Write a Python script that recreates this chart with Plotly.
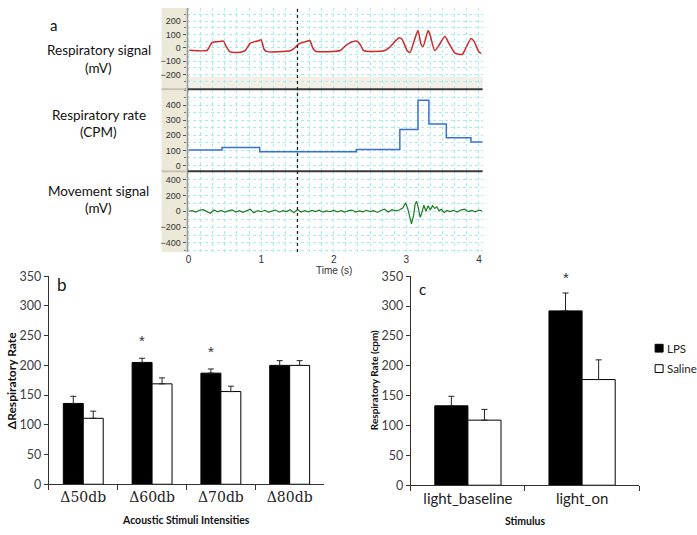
import plotly.graph_objects as go

W, H = 697, 535

# ---------------- Panel a data ----------------
resp_t = [0.01, 0.25, 0.28, 0.32, 0.44, 0.48, 0.52, 0.57, 0.71, 0.78, 0.85, 0.97, 1.00, 1.04,
          1.08, 1.40, 1.45, 1.52, 1.63, 1.67, 1.71, 1.75, 2.09, 2.15, 2.23, 2.32, 2.37, 2.41,
          2.69, 2.76, 2.90, 2.94, 3.01, 3.05, 3.10, 3.16, 3.20, 3.23, 3.30, 3.33, 3.39, 3.45,
          3.53, 3.59, 3.67, 3.77, 3.82, 3.89, 3.93, 4.00, 4.03]
resp_v = [-18, -20, 0, 38, 48, 50, 10, -30, -32, -20, 35, 55, 60, -10,
          -28, -22, -5, 30, 50, 55, 0, -25, -20, 10, 40, 50, 20, -20,
          -22, 0, 75, 65, -20, -35, 40, 130, 30, 10, 130, 90, -20, 20,
          85, 30, -40, -48, 0, 70, 50, -30, -40]

rate_t = [0, 0.46, 0.98, 2.31, 2.91, 3.16, 3.31, 3.55, 3.89, 4.05]
rate_v = [102, 119, 91, 106, 238, 432, 275, 184, 156, 156]

mov_t = [0.00, 0.05, 0.10, 0.15, 0.20, 0.25, 0.30, 0.35, 0.40, 0.45, 0.50, 0.55, 0.60, 0.65,
         0.70, 0.75, 0.80, 0.85, 0.90, 0.95, 1.00, 1.05, 1.10, 1.15, 1.20, 1.25, 1.30, 1.35,
         1.40, 1.45, 1.50, 1.55, 1.60, 1.65, 1.70, 1.75, 1.80, 1.85, 1.90, 1.95, 2.00, 2.05,
         2.10, 2.15, 2.20, 2.25, 2.30, 2.35, 2.40, 2.45, 2.50, 2.55, 2.60, 2.65, 2.70, 2.75,
         2.80, 2.85, 2.90, 2.95, 2.99, 3.02, 3.05, 3.07, 3.10, 3.12, 3.14, 3.16, 3.19, 3.21,
         3.24, 3.27, 3.30, 3.33, 3.36, 3.39, 3.42, 3.45, 3.48, 3.52, 3.56, 3.60, 3.65, 3.70,
         3.75, 3.80, 3.85, 3.90, 3.95, 4.00, 4.04]
mov_v = [0, 8, -10, 12, 20, -5, -25, 15, -8, 10, -12, 5, 18, -10,
         6, -15, 10, 25, -20, 8, -6, 12, -10, 5, 15, -12, 8, -5,
         20, -18, 22, -10, 6, -8, 10, -5, 12, -12, 5, -6, 10, -8,
         6, -12, 8, 15, -10, 5, -8, 12, -5, 8, -15, 10, 25, -10,
         20, 5, 15, 40, 105, 30, -110, -160, -50, 90, 125, 60, -75, -30,
         75, 0, 70, 15, 70, 35, 55, 5, 25, -15, 10, -5, 12, -10,
         15, 25, -5, 10, -8, 15, 5]

stim_time = 1.5

# ---------------- Panel b data ----------------
b_cats = ["Δ50db", "Δ60db", "Δ70db", "Δ80db"]
b_lps = [136, 205, 187, 200]
b_lps_err = [12, 7, 7, 8]
b_sal = [111, 169, 156, 200]
b_sal_err = [12, 10, 9, 8]
b_star_cats = ["Δ60db", "Δ70db"]
b_star_y = [242, 223]

# ---------------- Panel c data ----------------
c_cats = ["light_baseline", "light_on"]
c_lps = [133, 292]
c_lps_err = [16, 30]
c_sal = [109, 177]
c_sal_err = [18, 33]
c_star_cats = ["light_on"]
c_star_y = [348]

series_names = ["LPS", "Saline"]
series_fill = ["black", "white"]

def py(p):
    return 1 - p / H

def px(p):
    return p / W

fig = go.Figure()

GRID = "#a6ecf3"
TICKF = dict(family="Liberation Sans", size=9, color="#333")

# panel a traces
fig.add_trace(go.Scatter(x=resp_t, y=resp_v, mode="lines", line=dict(color="#d02828", width=1.5, shape="spline", smoothing=0.6),
                         xaxis="x", yaxis="y", showlegend=False))
fig.add_trace(go.Scatter(x=rate_t, y=rate_v, mode="lines", line=dict(color="#3a6fd8", width=1.5, shape="hv"),
                         xaxis="x2", yaxis="y2", showlegend=False))
fig.add_trace(go.Scatter(x=mov_t, y=mov_v, mode="lines", line=dict(color="#1e7a1e", width=1.2),
                         xaxis="x3", yaxis="y3", showlegend=False))

def err(a):
    return dict(type="data", symmetric=False, array=a, arrayminus=[0]*len(a), color="#222", thickness=1, width=3)

# panel b
fig.add_trace(go.Bar(x=b_cats, y=b_lps, marker=dict(color=series_fill[0], line=dict(color="black", width=1)), error_y=err(b_lps_err),
                     xaxis="x4", yaxis="y4", showlegend=False, name=series_names[0]))
fig.add_trace(go.Bar(x=b_cats, y=b_sal, marker=dict(color=series_fill[1], line=dict(color="black", width=1)), error_y=err(b_sal_err),
                     xaxis="x4", yaxis="y4", showlegend=False, name=series_names[1]))

# panel c
fig.add_trace(go.Bar(x=c_cats, y=c_lps, marker=dict(color=series_fill[0], line=dict(color="black", width=1)), error_y=err(c_lps_err),
                     xaxis="x5", yaxis="y5", showlegend=False, name=series_names[0]))
fig.add_trace(go.Bar(x=c_cats, y=c_sal, marker=dict(color=series_fill[1], line=dict(color="black", width=1)), error_y=err(c_sal_err),
                     xaxis="x5", yaxis="y5", showlegend=False, name=series_names[1]))

xa_dom = [px(186), px(482)]
xr = [-0.015, 4.05]

def a_xaxis(show_labels, anchor):
    return dict(domain=xa_dom, range=xr, anchor=anchor, tickvals=[0, 1, 2, 3, 4],
                showticklabels=show_labels, ticks="", showgrid=True, gridcolor=GRID, griddash="dot", gridwidth=1,
                minor=dict(dtick=1/6, tick0=0, showgrid=True, gridcolor=GRID, griddash="dot", gridwidth=1),
                zeroline=False, showline=False, tickfont=dict(family="Liberation Sans", size=10, color="#333"),
                fixedrange=True)

def a_yaxis(dom, rng, vals, minor_dt, anchor):
    return dict(domain=dom, range=rng, anchor=anchor, tickvals=vals, ticks="outside", ticklen=3, tickcolor="#555",
                showgrid=True, gridcolor=GRID, griddash="dot", zeroline=False, showline=False,
                minor=dict(dtick=minor_dt, showgrid=True, gridcolor=GRID, griddash="dot", ticks="outside", ticklen=2, tickcolor="#777"),
                tickfont=TICKF, ticklabelstandoff=1)

bar_y_common = dict(range=[0, 350], dtick=50, ticks="outside", ticklen=4, tickcolor="#333", showline=True, linecolor="#333",
                    linewidth=1, showgrid=False, zeroline=False, tickfont=dict(family="Lato", size=12.5, color="#404040"))

fig.update_layout(
    width=W, height=H, margin=dict(l=0, r=0, t=0, b=0), paper_bgcolor="white", plot_bgcolor="white",
    showlegend=False,
    xaxis=a_xaxis(False, "y"),
    xaxis2=a_xaxis(False, "y2"),
    xaxis3=a_xaxis(True, "y3"),
    yaxis=a_yaxis([py(83), 1.0], [-305, 298], [-200, -100, 0, 100, 200], 50, "x"),
    yaxis2=a_yaxis([py(168), py(84)], [-39, 503], [0, 100, 200, 300, 400], 50, "x2"),
    yaxis3=a_yaxis([py(251), py(168)], [-513, 503], [-400, -200, 0, 200, 400], 100, "x3"),
    xaxis4=dict(domain=[px(47), px(323)], anchor="y4", ticks="outside", tickson="boundaries", ticklen=5, tickcolor="#333",
                showline=True, linecolor="#333", linewidth=1, showgrid=False,
                tickfont=dict(family="DejaVu Serif", size=14, color="#222")),
    yaxis4=dict(domain=[py(490), py(276)], anchor="x4", **bar_y_common),
    xaxis5=dict(domain=[px(410), px(639)], anchor="y5", ticks="outside", tickson="boundaries", ticklen=5, tickcolor="#333",
                showline=True, linecolor="#333", linewidth=1, showgrid=False,
                tickfont=dict(family="Lato", size=15, color="#222")),
    yaxis5=dict(domain=[py(491), py(276)], anchor="x5", **bar_y_common),
    barmode="group", bargap=0.42, bargroupgap=0,
)

shapes = []
shapes.append(dict(type="rect", xref="paper", yref="paper", x0=px(160), x1=px(186), y0=py(251), y1=1,
                   fillcolor="#ECE9D8", line=dict(width=0), layer="below"))
shapes.append(dict(type="rect", xref="x domain", yref="y", x0=0, x1=1, y0=-305, y1=-215,
                   fillcolor="#F1EFE6", line=dict(width=0), layer="below"))
shapes.append(dict(type="line", xref="paper", yref="paper", x0=px(186), x1=px(186), y0=py(251), y1=1,
                   line=dict(color="#9a9a9a", width=1.5)))
for yy in (83.5, 168):
    shapes.append(dict(type="line", xref="paper", yref="paper", x0=px(186), x1=px(482), y0=py(yy), y1=py(yy),
                       line=dict(color="#3a3a3a", width=2)))
    shapes.append(dict(type="line", xref="paper", yref="paper", x0=px(160), x1=px(186), y0=py(yy), y1=py(yy),
                       line=dict(color="#c8c4b0", width=2)))
shapes.append(dict(type="line", xref="x3", yref="paper", x0=stim_time, x1=stim_time, y0=py(251), y1=1,
                   line=dict(color="#222", width=1.3, dash="dot")))

# legend of panel c (drawn as small swatches + labels)
ann = []
for i, (nm, fc) in enumerate(zip(series_names, series_fill)):
    yc = 350 + i * 21
    shapes.append(dict(type="rect", xref="paper", yref="paper", x0=px(655), x1=px(663), y0=py(yc + 4), y1=py(yc - 4),
                       fillcolor=fc, line=dict(color="black", width=1)))
    ann.append(dict(x=px(665), y=py(yc), xref="paper", yref="paper", text=nm, showarrow=False, xanchor="left",
                    yanchor="middle", font=dict(family="Lato", size=11.5, color="#222")))
fig.update_layout(shapes=shapes)

def txt(x, y, s, size=13, bold=False, family="Lato", angle=0, color="#111"):
    ann.append(dict(x=px(x), y=py(y), xref="paper", yref="paper", text=("<b>%s</b>" % s) if bold else s,
                    showarrow=False, textangle=angle, font=dict(family=family, size=size, color=color),
                    xanchor="center", yanchor="middle"))

txt(52, 17, "a", size=15)
txt(97, 43, "Respiratory signal", size=13.5)
txt(97, 62, "(mV)", size=13.5)
txt(97, 110, "Respiratory rate", size=13.5)
txt(97, 128, "(CPM)", size=13.5)
txt(97, 188, "Movement signal", size=13.5)
txt(97, 206, "(mV)", size=13.5)
txt(333, 270, "Time (s)", size=10, family="Liberation Sans", color="#333")

txt(60, 284, "b", size=17)
txt(9, 383, "ΔRespiratory Rate", size=12, bold=True, angle=-90)
txt(185, 527, "Acoustic Stimuli Intensities", size=10.5, bold=True)

txt(422, 289, "c", size=15)
txt(373, 383, "Respiratory Rate (cpm)", size=10, bold=True, angle=-90)
txt(525, 528, "Stimulus", size=10.5, bold=True)

for c, yv in zip(b_star_cats, b_star_y):
    ann.append(dict(x=c, y=yv, xref="x4", yref="y4", text="*", showarrow=False, xshift=-10,
                    font=dict(family="Liberation Sans", size=15, color="#333"), yanchor="middle"))
for c, yv in zip(c_star_cats, c_star_y):
    ann.append(dict(x=c, y=yv, xref="x5", yref="y5", text="*", showarrow=False, xshift=-16,
                    font=dict(family="Liberation Sans", size=15, color="#333"), yanchor="middle"))

fig.update_layout(annotations=ann)

post = ("document.documentElement.style.margin='0';document.body.style.margin='0';document.body.style.padding='0';")
fig.write_html("out.html", post_script=post, config={"displayModeBar": False})
